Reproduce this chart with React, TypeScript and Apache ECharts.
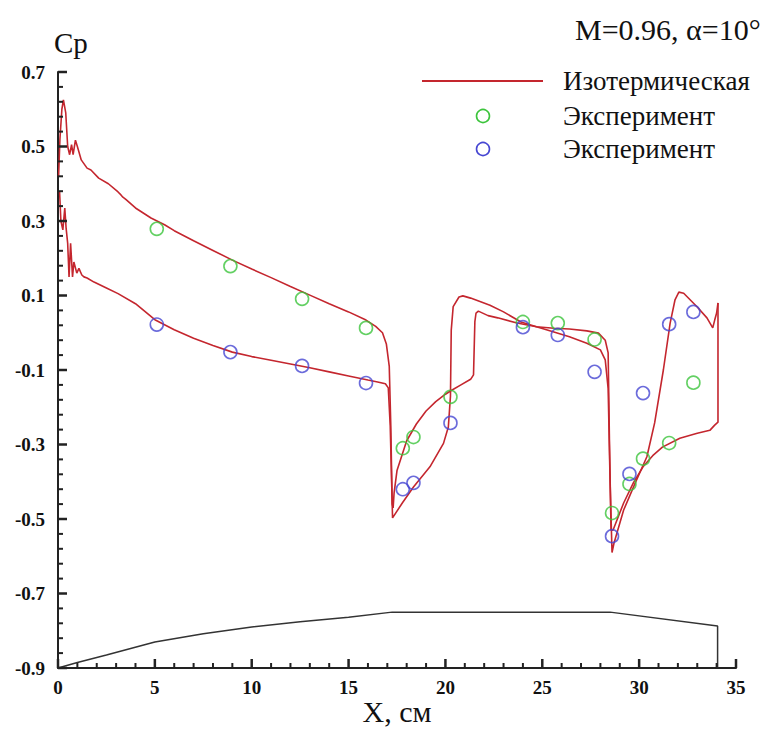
import React, { useEffect, useRef } from "react";
import * as echarts from "echarts";

// Surface 1 (green experiment side): Cp vs X, cm
const surface1: number[][] = [
  [0.03, 0.42], [0.1, 0.52], [0.2, 0.6], [0.28, 0.625], [0.4, 0.59], [0.5, 0.5],
  [0.6, 0.478], [0.7, 0.505], [0.78, 0.478], [0.9, 0.517], [1.0, 0.5], [1.2, 0.464],
  [1.5, 0.442], [1.7, 0.437], [2.1, 0.415], [2.6, 0.4], [3.1, 0.378], [3.25, 0.37],
  [3.35, 0.364], [3.5, 0.358], [4.0, 0.335], [4.8, 0.308], [5.5, 0.29], [6, 0.274],
  [7, 0.247], [8, 0.221], [9, 0.195], [10, 0.171], [11, 0.148], [12, 0.124],
  [13, 0.101], [14, 0.078], [15, 0.056], [15.9, 0.034], [16.4, 0.017], [16.75, 0.0],
  [16.95, -0.03], [17.1, -0.09], [17.18, -0.25], [17.25, -0.46], [17.3, -0.47],
  [17.35, -0.43], [17.5, -0.37], [18.0, -0.29], [18.5, -0.245], [19.0, -0.21],
  [19.5, -0.185], [20.0, -0.165], [20.3, -0.155], [20.8, -0.14], [21.3, -0.125],
  [21.45, -0.113], [21.52, 0.03], [21.58, 0.053], [21.7, 0.058], [22.2, 0.046],
  [22.7, 0.04], [23.7, 0.026], [24.7, 0.016], [25.6, 0.012], [26.4, 0.01],
  [27.3, 0.005], [27.9, -0.001], [28.25, -0.02], [28.4, -0.054], [28.47, -0.3],
  [28.55, -0.53], [28.65, -0.53], [29.2, -0.457], [29.7, -0.403], [30.2, -0.36],
  [30.7, -0.33], [31.2, -0.307], [32.1, -0.283], [33.0, -0.27], [33.65, -0.262],
  [33.9, -0.248], [34.07, -0.24], [34.07, 0.08]
];

// Surface 2 (blue experiment side): Cp vs X, cm
const surface2: number[][] = [
  [0.08, 0.38], [0.15, 0.3], [0.25, 0.276], [0.35, 0.335], [0.42, 0.28], [0.5, 0.24],
  [0.57, 0.15], [0.65, 0.24], [0.75, 0.15], [0.82, 0.19], [0.97, 0.16], [1.08, 0.173],
  [1.23, 0.155], [1.34, 0.15], [1.5, 0.147], [1.86, 0.136], [2.5, 0.12], [3.1, 0.105],
  [4, 0.078], [5, 0.035], [6, 0.008], [7, -0.015], [8, -0.034], [9, -0.052],
  [10, -0.064], [11, -0.074], [12, -0.084], [13, -0.094], [14, -0.105], [15, -0.116],
  [16, -0.127], [16.5, -0.132], [16.9, -0.137], [17.05, -0.148], [17.15, -0.25],
  [17.27, -0.497], [17.8, -0.455], [18.35, -0.414], [19.2, -0.36], [19.9, -0.297],
  [20.15, -0.253], [20.26, -0.17], [20.3, 0.007], [20.4, 0.07], [20.7, 0.096],
  [20.9, 0.099], [21.3, 0.093], [22.3, 0.074], [23.0, 0.056], [23.9, 0.029],
  [24.7, 0.016], [25.6, 0.002], [26.4, -0.011], [27.3, -0.028], [28.0, -0.046],
  [28.25, -0.073], [28.4, -0.15], [28.5, -0.4], [28.6, -0.59], [28.7, -0.565],
  [29.2, -0.476], [29.8, -0.403], [30.4, -0.333], [30.8, -0.242], [31.25, -0.1],
  [31.6, 0.026], [31.85, 0.088], [32.05, 0.109], [32.3, 0.106], [33.0, 0.069],
  [33.5, 0.04], [33.8, 0.013], [33.9, 0.034], [34.0, 0.053], [34.07, 0.08]
];

// Experiment (green)
const expGreenX = [5.1, 8.9, 12.6, 15.9, 17.8, 18.35, 20.26, 24.0, 25.8, 27.7, 28.6, 29.5, 30.2, 31.55, 32.8];
const expGreenCp = [0.279, 0.179, 0.091, 0.013, -0.31, -0.28, -0.172, 0.029, 0.026, -0.018, -0.484, -0.406, -0.338, -0.296, -0.134];

// Experiment (blue)
const expBlueX = [5.1, 8.9, 12.6, 15.9, 17.8, 18.35, 20.26, 24.0, 25.8, 27.7, 28.6, 29.5, 30.2, 31.55, 32.8];
const expBlueCp = [0.022, -0.052, -0.089, -0.135, -0.42, -0.403, -0.242, 0.015, -0.006, -0.105, -0.546, -0.379, -0.162, 0.023, 0.056];

// Body contour (drawn in Cp axis units)
const bodyX = [0, 1, 2.5, 5, 7.5, 10, 12.5, 15, 17.25, 28.5, 34.05, 34.05];
const bodyY = [-0.9, -0.885, -0.865, -0.83, -0.808, -0.79, -0.776, -0.764, -0.75, -0.75, -0.787, -0.9];

// Axis ticks (major values; minor ticks split each interval in 5)
const xMajorTicks = [0, 5, 10, 15, 20, 25, 30, 35];
const yMajorTicks = [-0.9, -0.7, -0.5, -0.3, -0.1, 0.1, 0.3, 0.5, 0.7];
const minorPerMajor = 5;

const xTickMin = 0;
const xTickMax = 35;
const xTickStep = 5;
const yTickMin = -0.9;
const yTickMax = 0.7;
const yTickStep = 0.2;

const RED = "#c4262e";
const GREEN = "#3cc43c";
const BLUE = "#4646d2";
const AXIS = "#222";
const SERIF = '"Liberation Serif", "Times New Roman", serif';
const MAJOR_LEN = 9;
const MINOR_LEN = 5;

function minorsOf(majors: number[]): number[] {
  const out: number[] = [];
  for (let i = 0; i < majors.length - 1; i++) {
    const step = (majors[i + 1] - majors[i]) / minorPerMajor;
    for (let k = 1; k < minorPerMajor; k++) out.push(majors[i] + step * k);
  }
  return out;
}

function tickSeries(name: string, data: number[][], size: number[], offset: number[]) {
  return {
    name,
    type: "scatter",
    silent: true,
    clip: false,
    z: 6,
    symbol: "rect",
    symbolSize: size,
    symbolOffset: offset,
    itemStyle: { color: AXIS, opacity: 1 },
    emphasis: { disabled: true },
    tooltip: { show: false },
    data,
  };
}

export default function App() {
  const ref = useRef<HTMLDivElement>(null);
  useEffect(() => {
    if (!ref.current) return;
    const chart = echarts.init(ref.current, undefined, { renderer: "svg" });
    const axisLine = () => ({ show: true, onZero: false, lineStyle: { color: AXIS, width: 2 } });
    const labelStyle = { color: "#111", fontFamily: SERIF, fontWeight: "bold" as const, fontSize: 19 };
    const xMinor = minorsOf(xMajorTicks);
    const yMinor = minorsOf(yMajorTicks);
    chart.setOption({
      animation: false,
      backgroundColor: "#fff",
      grid: { left: 58, right: 37, top: 72, bottom: 63, outerBoundsMode: "none" },
      xAxis: {
        type: "value",
        min: xTickMin,
        max: xTickMax,
        interval: xTickStep,
        name: "X, см",
        nameLocation: "middle",
        nameGap: 28,
        nameMoveOverlap: false,
        nameTextStyle: { fontFamily: SERIF, fontSize: 30, color: "#111" },
        axisLine: axisLine(),
        axisTick: { show: false },
        minorTick: { show: false },
        axisLabel: { ...labelStyle, margin: 10 },
        splitLine: { show: false },
      },
      yAxis: {
        type: "value",
        min: yTickMin,
        max: yTickMax,
        interval: yTickStep,
        name: "Cp",
        nameLocation: "end",
        nameGap: 15,
        nameMoveOverlap: false,
        nameTextStyle: { fontFamily: SERIF, fontSize: 29, color: "#111", align: "left", padding: [0, 0, 0, -4] },
        axisLine: axisLine(),
        axisTick: { show: false },
        minorTick: { show: false },
        axisLabel: {
          ...labelStyle,
          margin: 13,
          formatter: (v: number) => (Math.round(v * 10) / 10).toFixed(1),
        },
        splitLine: { show: false },
      },
      series: [
        tickSeries("x major ticks", xMajorTicks.map((v) => [v, yTickMin]), [2.5, MAJOR_LEN], [0, -MAJOR_LEN / 2]),
        tickSeries("x minor ticks", xMinor.map((v) => [v, yTickMin]), [2, MINOR_LEN], [0, -MINOR_LEN / 2]),
        tickSeries("y major ticks", yMajorTicks.map((v) => [xTickMin, v]), [MAJOR_LEN, 2.5], [MAJOR_LEN / 2, 0]),
        tickSeries("y minor ticks", yMinor.map((v) => [xTickMin, v]), [MINOR_LEN, 2], [MINOR_LEN / 2, 0]),
        {
          name: "Контур",
          type: "line",
          data: bodyX.map((x, i) => [x, bodyY[i]]),
          showSymbol: false,
          lineStyle: { color: "#333", width: 1.5 },
          z: 1,
        },
        {
          name: "Изотермическая",
          type: "line",
          data: surface1,
          showSymbol: false,
          lineStyle: { color: RED, width: 1.6 },
          z: 2,
        },
        {
          name: "Изотермическая",
          type: "line",
          data: surface2,
          showSymbol: false,
          lineStyle: { color: RED, width: 1.6 },
          z: 2,
        },
        {
          name: "Эксперимент",
          type: "scatter",
          data: expGreenX.map((x, i) => [x, expGreenCp[i]]),
          symbol: "circle",
          symbolSize: 13,
          itemStyle: { color: "rgba(255,255,255,0)", borderColor: GREEN, borderWidth: 1.6 },
          z: 3,
        },
        {
          name: "Эксперимент",
          type: "scatter",
          data: expBlueX.map((x, i) => [x, expBlueCp[i]]),
          symbol: "circle",
          symbolSize: 13,
          itemStyle: { color: "rgba(255,255,255,0)", borderColor: BLUE, borderWidth: 1.6 },
          z: 3,
        },
      ],
      graphic: [
        {
          type: "text",
          x: 575,
          y: 29,
          style: { text: "M=0.96, α=10°", font: `30px ${SERIF}`, fill: "#111", verticalAlign: "middle" },
        },
        {
          type: "line",
          shape: { x1: 422, y1: 81, x2: 543, y2: 81 },
          style: { stroke: RED, lineWidth: 1.8 },
        },
        {
          type: "text",
          x: 563,
          y: 81,
          style: { text: "Изотермическая", font: `27px ${SERIF}`, fill: "#111", verticalAlign: "middle" },
        },
        {
          type: "circle",
          shape: { cx: 483, cy: 116, r: 6.5 },
          style: { fill: "none", stroke: GREEN, lineWidth: 1.6 },
        },
        {
          type: "text",
          x: 563,
          y: 116,
          style: { text: "Эксперимент", font: `27px ${SERIF}`, fill: "#111", verticalAlign: "middle" },
        },
        {
          type: "circle",
          shape: { cx: 483, cy: 149, r: 6.5 },
          style: { fill: "none", stroke: BLUE, lineWidth: 1.6 },
        },
        {
          type: "text",
          x: 563,
          y: 149,
          style: { text: "Эксперимент", font: `27px ${SERIF}`, fill: "#111", verticalAlign: "middle" },
        },
      ],
    });
    return () => chart.dispose();
  }, []);
  return <div ref={ref} style={{ width: 773, height: 731, position: "absolute", left: 0, top: 0 }} />;
}
